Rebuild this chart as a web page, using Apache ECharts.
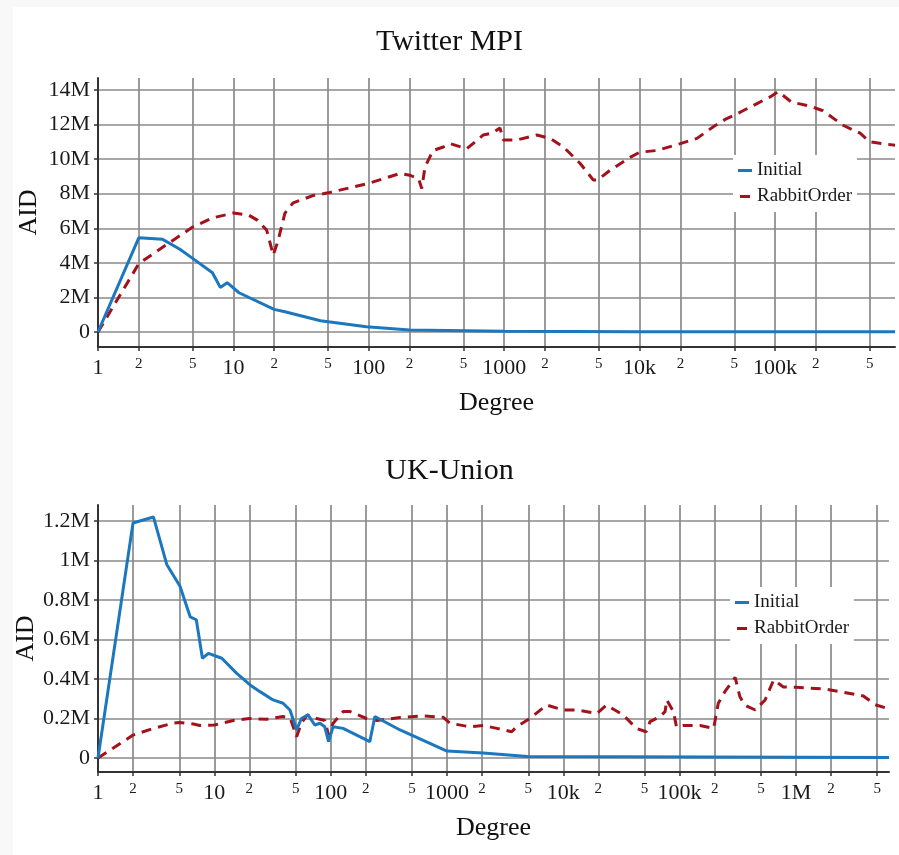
<!DOCTYPE html>
<html>
<head>
<meta charset="utf-8">
<script src="https://cdn.jsdelivr.net/npm/echarts@6/dist/echarts.min.js"></script>
<style>
  html, body { margin: 0; padding: 0; background: #f8f8f8; }
  #card { position: absolute; left: 13px; top: 7px; right: 0; bottom: 0; background: #fff; }
  #chart { position: absolute; left: 0; top: 0; width: 899px; height: 855px; }
</style>
</head>
<body>
<div id="card"></div>
<div id="chart"></div>
<script>
// x ticks (degree) and their labels
const tickDegrees = [1, 2, 5, 10, 20, 50, 100, 200, 500, 1000, 2000, 5000, 10000, 20000, 50000, 100000, 200000, 500000, 1000000, 2000000, 5000000]
const tickLabels = ['1', '2', '5', '10', '2', '5', '100', '2', '5', '1000', '2', '5', '10k', '2', '5', '100k', '2', '5', '1M', '2', '5']

// Twitter MPI (AID in millions)
const twInitialDeg = [1, 2, 3, 4, 5, 7, 8, 9, 11, 20, 24, 44, 96, 200, 1000, 10000, 100000, 770000]
const twInitialAid = [0, 5.45, 5.36, 4.8, 4.26, 3.43, 2.58, 2.85, 2.27, 1.31, 1.17, 0.65, 0.31, 0.12, 0.04, 0.015, 0.01, 0.01]
const twRabbitDeg = [1, 2, 3, 5, 7, 10, 13, 15, 17.6, 19.7, 21.4, 24, 27.6, 39, 50, 100, 170, 200, 233, 246, 260, 298, 355, 398, 529, 700, 811, 930, 985, 1230, 1740, 2180, 2740, 3640, 4540, 4920, 6050, 8500, 10000, 13400, 20000, 26500, 35000, 44000, 50000, 58000, 73000, 92000, 105000, 110000, 132000, 182000, 226000, 318000, 425000, 500000, 770000]
const twRabbitAid = [0, 3.95, 4.9, 6.07, 6.6, 6.88, 6.76, 6.47, 5.9, 4.45, 5.3, 6.87, 7.47, 7.9, 8.05, 8.6, 9.17, 9.07, 8.88, 8.3, 9.55, 10.5, 10.7, 10.9, 10.6, 11.4, 11.5, 11.8, 11.1, 11.1, 11.4, 11.2, 10.7, 9.75, 8.8, 8.8, 9.36, 10.1, 10.4, 10.5, 10.9, 11.2, 11.87, 12.35, 12.54, 12.8, 13.2, 13.6, 13.9, 13.8, 13.3, 13.06, 12.8, 11.96, 11.5, 11.0, 10.8]
const twYTicks = [0, 2, 4, 6, 8, 10, 12, 14]

// UK-Union (AID in millions)
const ukInitialDeg = [1, 2, 3, 3.9, 5.07, 6.2, 7, 7.9, 8.9, 11.6, 15.5, 20.3, 24.7, 32, 39, 44.7, 51, 56, 64, 73, 81, 89, 96, 105, 128, 217, 240, 395, 1000, 2050, 4900, 6300000]
const ukInitialAid = [0, 1.19, 1.22, 0.98, 0.87, 0.715, 0.70, 0.505, 0.53, 0.505, 0.43, 0.37, 0.336, 0.294, 0.277, 0.243, 0.142, 0.2, 0.218, 0.167, 0.176, 0.158, 0.083, 0.158, 0.15, 0.083, 0.21, 0.142, 0.035, 0.025, 0.007, 0.003]
const ukRabbitDeg = [1, 2, 3, 4.4, 5, 6.6, 7.5, 10, 14.6, 20, 28, 39, 45, 51, 56, 63, 76, 89, 96, 105, 128, 147, 203, 250, 395, 627, 930, 1060, 1580, 2050, 2680, 3600, 3970, 5150, 7200, 10000, 13000, 19500, 23500, 32700, 42500, 51600, 55700, 67800, 75000, 77500, 88500, 94000, 108000, 150000, 196000, 215000, 245000, 300000, 330000, 363000, 447000, 543000, 643000, 705000, 780000, 1000000, 1730000, 2400000, 3800000, 4800000, 6200000]
const ukRabbitAid = [0, 0.116, 0.15, 0.176, 0.18, 0.172, 0.165, 0.167, 0.19, 0.2, 0.196, 0.21, 0.2, 0.108, 0.176, 0.218, 0.2, 0.19, 0.116, 0.176, 0.235, 0.235, 0.2, 0.19, 0.205, 0.213, 0.206, 0.176, 0.158, 0.165, 0.15, 0.133, 0.158, 0.2, 0.268, 0.243, 0.243, 0.226, 0.268, 0.218, 0.15, 0.133, 0.184, 0.21, 0.235, 0.294, 0.235, 0.158, 0.165, 0.165, 0.15, 0.277, 0.336, 0.408, 0.31, 0.268, 0.243, 0.294, 0.395, 0.378, 0.36, 0.358, 0.35, 0.336, 0.314, 0.27, 0.25]
const ukYTicks = [0, 0.2, 0.4, 0.6, 0.8, 1, 1.2]

const BLUE = '#1b77be'
const RED = '#a3111a'
const FONT = 'Liberation Serif'

const chart = echarts.init(document.getElementById('chart'))

function pairs(deg, aid) {
  return deg.map((d, i) => [Math.log10(d), aid[i]])
}

function xAxis(gridIndex, max) {
  const vals = tickDegrees.map(d => Math.log10(d)).filter(v => v <= max + 1e-9)
  return {
    type: 'value',
    gridIndex: gridIndex,
    min: 0,
    max: max,
    name: 'Degree',
    nameLocation: 'middle',
    nameGap: 43,
    nameTextStyle: { fontFamily: FONT, fontSize: 26, color: '#111' },
    axisLine: { show: true, onZero: false, lineStyle: { color: '#333', width: 2 } },
    axisTick: { show: true, length: 4, customValues: vals, lineStyle: { color: '#333', width: 1.5 } },
    splitLine: { show: true, lineStyle: { color: '#8a8a8a', width: 1.7 } },
    axisLabel: {
      customValues: vals,
      margin: 10,
      formatter: function(v) {
        let k = 0
        for (let i = 0; i < tickDegrees.length; i++) {
          if (Math.abs(Math.log10(tickDegrees[i]) - v) < 1e-6) k = i
        }
        const big = Math.abs(Math.log10(tickDegrees[k]) % 1) < 1e-6
        return big ? '{big|' + tickLabels[k] + '}' : '{small|' + tickLabels[k] + '}'
      },
      rich: {
        big: { fontFamily: FONT, fontSize: 22, color: '#1a1a1a' },
        small: { fontFamily: FONT, fontSize: 15, color: '#1a1a1a' }
      }
    }
  }
}

function yAxis(gridIndex, min, max, ticks, gap) {
  return {
    type: 'value',
    gridIndex: gridIndex,
    min: min,
    max: max,
    name: 'AID',
    nameLocation: 'middle',
    nameGap: gap,
    nameMoveOverlap: false,
    nameTextStyle: { fontFamily: FONT, fontSize: 26, color: '#111' },
    axisLine: { show: true, onZero: false, lineStyle: { color: '#333', width: 2 } },
    axisTick: { show: true, length: 4, customValues: ticks, lineStyle: { color: '#333', width: 1.5 } },
    splitLine: { show: true, lineStyle: { color: '#8a8a8a', width: 1.7 } },
    axisLabel: {
      customValues: ticks,
      margin: 8,
      fontFamily: FONT,
      fontSize: 22,
      color: '#1a1a1a',
      formatter: v => (v === 0 ? '0' : v + 'M')
    }
  }
}

function legend(left, top) {
  return {
    orient: 'vertical',
    left: left,
    top: top,
    backgroundColor: '#fff',
    padding: [6, 5, 6, 5],
    itemGap: 7,
    itemWidth: 14,
    itemHeight: 3,
    textStyle: { fontFamily: FONT, fontSize: 19, color: '#1a1a1a' },
    data: [
      { name: 'Initial', icon: 'rect' },
      { name: 'RabbitOrder', icon: 'path://M2,0h10v3h-10z' }
    ]
  }
}

function line(name, idx, data, color, dashed) {
  return {
    name: name,
    type: 'line',
    xAxisIndex: idx,
    yAxisIndex: idx,
    data: data,
    showSymbol: false,
    symbol: 'none',
    color: color,
    lineStyle: { color: color, width: 3, type: dashed ? [10, 7] : 'solid' },
    z: dashed ? 3 : 4
  }
}

const option = {
  animation: false,
  backgroundColor: 'transparent',
  title: [
    { text: 'Twitter MPI', left: 'center', top: 22, textStyle: { fontFamily: FONT, fontSize: 30, fontWeight: 'normal', color: '#111' } },
    { text: 'UK-Union', left: 'center', top: 451, textStyle: { fontFamily: FONT, fontSize: 30, fontWeight: 'normal', color: '#111' } }
  ],
  legend: [legend(733, 155), legend(730, 587)],
  grid: [
    { left: 98, top: 78, width: 797, height: 269 },
    { left: 98, top: 505, width: 791, height: 267 }
  ],
  xAxis: [xAxis(0, 5.886), xAxis(1, 6.8)],
  yAxis: [yAxis(0, -0.868, 14.694, twYTicks, 56), yAxis(1, -0.0709, 1.281, ukYTicks, 59)],
  series: [
    line('Initial', 0, pairs(twInitialDeg, twInitialAid), BLUE, false),
    line('RabbitOrder', 0, pairs(twRabbitDeg, twRabbitAid), RED, true),
    line('Initial', 1, pairs(ukInitialDeg, ukInitialAid), BLUE, false),
    line('RabbitOrder', 1, pairs(ukRabbitDeg, ukRabbitAid), RED, true)
  ]
}

chart.setOption(option)
</script>
</body>
</html>
